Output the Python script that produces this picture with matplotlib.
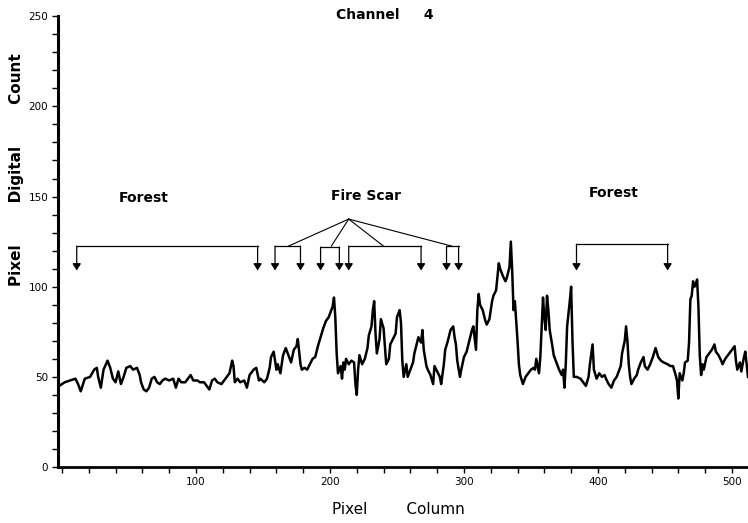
"""Channel 4 pixel profile across forest and fire scar."""
import matplotlib
matplotlib.use('Agg')
import matplotlib.pyplot as plt
from matplotlib.ticker import FuncFormatter, MultipleLocator

# Pixel column and digital count along the scan line.
pixel_column = [
    -2, 2, 6, 10, 12, 14, 17, 21, 24, 26, 27, 29, 31, 34, 36, 38, 40, 42, 44,
    46, 48, 51, 53, 56, 58, 59, 61, 63, 65, 67, 69, 71, 73, 75, 77, 80, 83,
    85, 87, 89, 92, 94, 96, 98, 101, 103, 106, 108, 110, 112, 114, 116, 119,
    121, 123, 125, 127, 128, 129, 131, 133, 136, 138, 140, 142, 143, 145, 147,
    148, 151, 153, 155, 156, 158, 160, 161, 163, 165, 167,
    169, 171, 173, 175, 176, 178, 179, 181, 183, 185, 187, 189, 191, 193, 195,
    197, 199, 201, 202, 203, 204, 205, 206, 208, 209, 210, 211, 212, 214, 216,
    218, 219, 220, 221, 222, 224, 226, 228, 229, 231, 232, 233, 234, 235, 237,
    238, 240, 241, 242, 244, 245, 247, 249, 250, 252, 253, 254, 255,
    257, 258, 260, 262, 263, 265, 266, 268, 269, 270, 272, 273, 275, 277, 278,
    280, 282, 283, 285, 286, 288, 290, 292, 293, 294, 295, 297, 298, 300, 302,
    304, 306, 307, 309, 310, 311, 312, 314, 316, 317, 319, 321, 322, 324, 326,
    327, 329, 331, 332, 334, 335, 336, 337, 338, 339, 340, 341,
    342, 344, 346, 348, 350, 352, 353, 354, 356, 357, 358, 359, 360, 361, 362,
    363, 364, 366, 367, 369, 371, 373, 374, 375, 376, 377, 379, 380, 381, 382,
    384, 387, 389, 391, 393, 394, 396, 397, 399, 401, 403, 405, 406, 408, 410,
    412, 414, 416, 417, 418, 420, 421, 422, 423, 424, 425,
    427, 429, 430, 432, 434, 435, 437, 439, 441, 443, 445, 447, 449, 452, 454,
    456, 458, 459, 460, 461, 463, 464, 465, 467, 468, 469, 470, 471, 472, 473,
    474, 475, 476, 477, 478, 479, 481, 483, 485, 487, 488, 490, 492, 493, 495,
    498, 500, 502, 503, 504, 506, 507, 509, 510, 512,
]
digital_count = [
    45, 47, 48, 49, 46, 42, 49, 50, 54, 55, 50, 44, 54, 59, 55, 49, 47, 53, 46,
    50, 55, 56, 54, 55, 51, 47, 43, 42, 44, 49, 50, 47, 46, 48, 49, 48, 49,
    44, 49, 47, 47, 49, 51, 48, 48, 47, 47, 45, 43, 48, 49, 47, 46,
    48, 50, 52, 59, 56, 47, 49, 47, 48, 44, 51, 53, 54, 55, 48,
    49, 47, 49, 55, 61, 64, 54, 57, 52, 62, 66,
    62, 58, 65, 67, 71, 57, 54, 55, 54, 57, 60, 61, 67, 72, 77,
    81, 83, 87, 89, 94, 83, 63, 52, 56, 49, 58, 54, 60, 57, 59,
    58, 46, 40, 54, 62, 57, 60, 66, 73, 78, 87, 92, 74, 63, 71,
    82, 77, 67, 57, 60, 68, 71, 74, 83, 87, 80, 59, 50,
    57, 50, 54, 58, 63, 69, 72, 69, 76, 65, 56, 54, 51, 46, 56,
    53, 50, 46, 57, 65, 70, 76, 78, 72, 68, 59, 50, 54, 61, 64,
    70, 76, 78, 65, 87, 96, 90, 87, 81, 79, 82, 92, 95, 98, 113,
    110, 106, 103, 105, 111, 125, 109, 87, 92, 81, 70, 57,
    51, 46, 50, 52, 54, 55, 54, 60, 52, 61, 78, 94, 83, 76, 95,
    87, 76, 67, 62, 58, 54, 51, 54, 44, 57, 78, 92, 100, 70, 50,
    50, 49, 47, 45, 50, 57, 68, 54, 49, 52, 50, 51, 49, 46, 44,
    48, 50, 54, 56, 63, 70, 78, 70, 57, 50, 46,
    49, 51, 54, 58, 61, 56, 54, 57, 61, 66, 61, 59, 58, 57, 56,
    56, 51, 48, 38, 52, 48, 52, 58, 59, 69, 93, 95, 103, 100, 101,
    104, 89, 62, 51, 57, 54, 61, 63, 65, 68, 64, 62, 59, 57, 60,
    63, 65, 67, 59, 54, 58, 53, 61, 64, 50,
]

# Region brackets: left/right pixel column of each pair of arrows.
bracket_left = [11, 159, 193, 214, 287, 384]
bracket_right = [146, 178, 207, 268, 296, 452]
bracket_top = [122.5, 122.5, 122, 122.5, 122.5, 123.6]
arrow_tip = 109

# Leader lines from the "Fire Scar" label to its brackets.
leader_origin = (214, 137.5)
leader_targets = [169, 201, 240, 291]

region_labels = ['Forest', 'Fire Scar', 'Forest']
region_label_x = [61, 227, 412]
region_label_y = [149, 150.5, 152]

fig = plt.figure(figsize=(7.48, 5.23), dpi=100)
ax = fig.add_axes([0.0775, 0.107, 0.9225, 0.862])

ax.plot(pixel_column, digital_count, color='black', linewidth=1.8)

for left, right, top in zip(bracket_left, bracket_right, bracket_top):
    ax.plot([left, right], [top, top], color='black', linewidth=0.9)
    for x in (left, right):
        ax.annotate('', xy=(x, arrow_tip), xytext=(x, top),
                    arrowprops=dict(arrowstyle='-|>,head_width=0.25',
                                    color='black', linewidth=0.9,
                                    mutation_scale=10,
                                    shrinkA=0, shrinkB=0))

for target in leader_targets:
    ax.plot([leader_origin[0], target], [leader_origin[1], 122.5],
            color='black', linewidth=0.8)

for label, x, y in zip(region_labels, region_label_x, region_label_y):
    ax.text(x, y, label, ha='center', va='center', fontsize=10,
            fontweight='bold')

ax.set_xlim(-3, 512)
ax.set_ylim(0, 250)

# Only the left and bottom axis lines, drawn heavy like a pen plot.
ax.spines['top'].set_visible(False)
ax.spines['right'].set_visible(False)
ax.spines['left'].set_linewidth(2.2)
ax.spines['bottom'].set_linewidth(2.0)

ax.xaxis.set_major_locator(MultipleLocator(100))
ax.xaxis.set_minor_locator(MultipleLocator(20))
ax.yaxis.set_major_locator(MultipleLocator(50))
ax.yaxis.set_minor_locator(MultipleLocator(10))
ax.tick_params(which='both', direction='out', length=4, width=1,
               labelsize=7.5, pad=3)


def format_x(tick_val, _):
    """Leave the origin of the column axis unlabelled."""
    if int(tick_val) == 0:
        return ''
    return str(int(tick_val))


ax.xaxis.set_major_formatter(FuncFormatter(format_x))

fig.text(0.515, 0.971, 'Channel     4', ha='center', va='center',
         fontsize=10, fontweight='bold')
fig.text(0.532, 0.025, 'Pixel        Column', ha='center', va='center',
         fontsize=11)
fig.text(0.022, 0.675, 'Pixel        Digital        Count', ha='center',
         va='center', rotation=90, fontsize=11, fontweight='bold')

fig.savefig('out.png', dpi=100)
